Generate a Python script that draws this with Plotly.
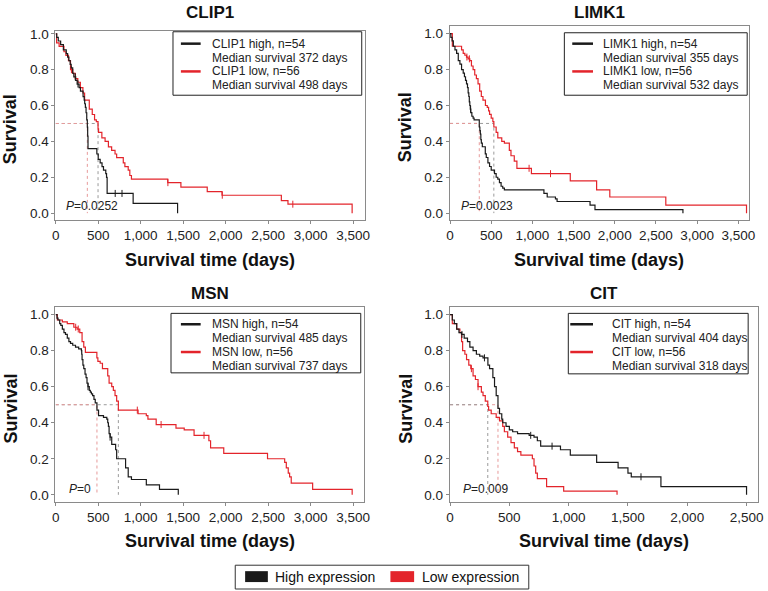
import plotly.graph_objects as go

W, H = 768, 591
BLACK = '#1a1a1a'
RED = '#e3242b'
PINK = '#e79a9a'
GREY = '#9a9a9a'
FONT = 'Liberation Sans, Arial, sans-serif'

# ---------------- data ----------------
genes = ['CLIP1', 'LIMK1', 'MSN', 'CIT']
n_high = [54, 54, 54, 54]
n_low = [56, 56, 56, 56]
median_high = [372, 355, 485, 404]
median_low = [498, 532, 737, 318]
p_values = ['0.0252', '0.0023', '0', '0.009']
x_ticks = [[0, 500, 1000, 1500, 2000, 2500, 3000, 3500]] * 3 + [[0, 500, 1000, 1500, 2000, 2500]]
y_ticks = [0.0, 0.2, 0.4, 0.6, 0.8, 1.0]

clip1_high_t = [0, 12, 30, 58, 90, 124, 140, 155, 170, 182, 200, 213, 235, 252, 275, 291, 322, 335, 341, 349,
                357, 365, 372, 376, 380, 484, 500, 523, 545, 562, 589, 598, 605, 911, 1434]
clip1_high_s = [1.0, 0.98, 0.96, 0.94, 0.91, 0.89, 0.87, 0.85, 0.83, 0.81, 0.78, 0.76, 0.74, 0.72, 0.70, 0.68, 0.65, 0.63, 0.61, 0.59,
                0.56, 0.52, 0.48, 0.43, 0.36, 0.33, 0.30, 0.28, 0.26, 0.24, 0.22, 0.20, 0.11, 0.055, 0.0]
clip1_low_t = [0, 10, 40, 97, 120, 150, 174, 200, 230, 260, 290, 320, 340, 395, 430, 457, 478, 498, 504, 543,
               581, 620, 658, 698, 717, 795, 814, 853, 872, 891, 1318, 1473, 1783, 1957, 2655, 2733, 3488]
clip1_low_s = [1.0, 0.95, 0.93, 0.90, 0.88, 0.85, 0.80, 0.78, 0.75, 0.73, 0.70, 0.67, 0.63, 0.58, 0.55, 0.52, 0.51, 0.47, 0.45, 0.42,
               0.40, 0.37, 0.35, 0.33, 0.31, 0.28, 0.26, 0.24, 0.21, 0.19, 0.17, 0.145, 0.12, 0.10, 0.07, 0.05, 0.0]

limk1_high_t = [0, 10, 25, 40, 60, 80, 100, 120, 140, 160, 175, 188, 200, 212, 220, 228, 234, 240, 246, 252,
                265, 280, 292, 355, 362, 368, 374, 380, 392, 428, 440, 460, 480, 500, 540, 560, 580, 600, 620, 640,
                660, 1140, 1180, 1280, 1300, 1700, 1760, 2828]
limk1_high_s = [1.0, 0.98, 0.96, 0.93, 0.91, 0.89, 0.85, 0.83, 0.80, 0.78, 0.76, 0.74, 0.72, 0.70, 0.67, 0.65, 0.62, 0.60, 0.58, 0.56,
                0.54, 0.53, 0.52, 0.48, 0.46, 0.44, 0.41, 0.39, 0.37, 0.33, 0.31, 0.28, 0.26, 0.24, 0.22, 0.20, 0.19, 0.17, 0.15, 0.14,
                0.13, 0.11, 0.09, 0.08, 0.065, 0.045, 0.02, 0.0]
limk1_low_t = [0, 28, 140, 160, 180, 200, 220, 240, 260, 280, 300, 320, 340, 360, 380, 400, 430, 452, 468, 480,
               500, 520, 532, 560, 580, 628, 660, 720, 740, 780, 812, 988, 1460, 1780, 1940, 2620, 3600]
limk1_low_s = [1.0, 0.93, 0.91, 0.89, 0.88, 0.87, 0.86, 0.85, 0.82, 0.80, 0.77, 0.75, 0.72, 0.68, 0.65, 0.63, 0.60, 0.59, 0.57, 0.55,
               0.53, 0.51, 0.48, 0.45, 0.42, 0.40, 0.39, 0.35, 0.32, 0.29, 0.25, 0.22, 0.18, 0.13, 0.09, 0.045, 0.0]

msn_high_t = [0, 15, 27, 47, 60, 78, 97, 115, 136, 155, 174, 200, 233, 270, 302, 306, 310, 320, 330, 345,
              357, 368, 380, 395, 407, 420, 434, 450, 465, 485, 504, 562, 601, 612, 620, 628, 640, 659, 705, 717,
              822, 853, 891, 1066, 1221, 1442]
msn_high_s = [1.0, 0.98, 0.97, 0.95, 0.94, 0.92, 0.90, 0.89, 0.87, 0.85, 0.84, 0.83, 0.82, 0.81, 0.80, 0.78, 0.75, 0.72, 0.70, 0.67,
              0.65, 0.62, 0.60, 0.58, 0.57, 0.56, 0.55, 0.53, 0.51, 0.47, 0.44, 0.43, 0.42, 0.40, 0.38, 0.34, 0.32, 0.28, 0.25, 0.20,
              0.15, 0.10, 0.085, 0.055, 0.03, 0.0]
msn_low_t = [0, 19, 78, 136, 213, 252, 283, 310, 330, 349, 484, 496, 523, 550, 612, 628, 659, 678, 698, 717,
             737, 969, 1066, 1085, 1182, 1415, 1512, 1628, 1802, 1822, 1977, 2492, 2694, 2713, 2736, 2752, 2771, 3023, 3488]
msn_low_s = [1.0, 0.97, 0.96, 0.95, 0.93, 0.92, 0.90, 0.85, 0.82, 0.79, 0.76, 0.74, 0.73, 0.70, 0.66, 0.62, 0.60, 0.58, 0.55, 0.52,
             0.47, 0.45, 0.44, 0.42, 0.39, 0.37, 0.36, 0.33, 0.30, 0.26, 0.23, 0.20, 0.18, 0.15, 0.12, 0.10, 0.065, 0.03, 0.0]

cit_high_t = [0, 19, 36, 56, 75, 97, 119, 147, 167, 194, 222, 250, 278, 319, 333, 361, 375, 389, 404, 417,
              436, 444, 472, 500, 528, 569, 667, 708, 736, 764, 931, 1014, 1236, 1417, 1500, 1528, 1778, 2500]
cit_high_s = [1.0, 0.97, 0.95, 0.92, 0.90, 0.89, 0.87, 0.85, 0.82, 0.80, 0.78, 0.77, 0.76, 0.72, 0.70, 0.65, 0.60, 0.55, 0.48, 0.45,
              0.42, 0.40, 0.38, 0.36, 0.35, 0.34, 0.33, 0.32, 0.30, 0.27, 0.25, 0.22, 0.18, 0.15, 0.12, 0.10, 0.045, 0.0]
cit_low_t = [0, 19, 56, 83, 97, 106, 125, 139, 158, 175, 194, 214, 236, 264, 278, 297, 318, 325, 347, 389,
             417, 444, 458, 486, 514, 542, 569, 597, 694, 708, 722, 736, 814, 958, 1408]
cit_low_s = [1.0, 0.95, 0.92, 0.90, 0.85, 0.80, 0.78, 0.75, 0.72, 0.70, 0.66, 0.64, 0.60, 0.57, 0.55, 0.52, 0.49, 0.47, 0.45, 0.43,
             0.41, 0.38, 0.35, 0.32, 0.29, 0.26, 0.24, 0.22, 0.20, 0.16, 0.12, 0.09, 0.045, 0.02, 0.0]

# censored observation times
clip1_high_cens = [230, 262, 700, 780]
clip1_low_cens = [185, 1320, 1960, 2790]
limk1_high_cens = [250]
limk1_low_cens = [205, 235, 960, 1220]
msn_high_cens = [380, 640]
msn_low_cens = [235, 265, 960, 1240, 1745]
cit_high_cens = [100, 290, 680, 860, 1610]
cit_low_cens = [180, 236]

high_t = [clip1_high_t, limk1_high_t, msn_high_t, cit_high_t]
high_s = [clip1_high_s, limk1_high_s, msn_high_s, cit_high_s]
low_t = [clip1_low_t, limk1_low_t, msn_low_t, cit_low_t]
low_s = [clip1_low_s, limk1_low_s, msn_low_s, cit_low_s]
high_c = [clip1_high_cens, limk1_high_cens, msn_high_cens, cit_high_cens]
low_c = [clip1_low_cens, limk1_low_cens, msn_low_cens, cit_low_cens]

# ---------------- layout (pixel geometry) ----------------
def px(x):
    return x / W

def py(y):
    return 1 - y / H

frames = [(53, 366, 27, 218), (452, 755, 22, 218), (53, 365, 306, 502), (452, 764, 306, 502)]
x_ranges = [[-4, 3636], [-4, 3632], [-4, 3624], [-3, 2597]]
y_ranges = [[-0.039, 1.017], [-0.039, 1.044], [-0.0385, 1.04], [-0.0385, 1.04]]
legend_boxes = [(172, 363, 28, 92, 180, 200, 209, 40),
                (568, 753, 29, 92, 576, 597, 605, 40),
                (170, 362, 312, 372, 180, 200, 209, 323),
                (572, 754, 312, 373, 574, 597, 614, 323)]
pval_pos = [(62, 204), (461, 204), (65, 489), (463, 489)]


def step_value(ts, ss, t):
    v = ss[0]
    for ti, si in zip(ts, ss):
        if ti <= t:
            v = si
    return v


fig = go.Figure()
annotations = []
shapes = []

for i, g in enumerate(genes):
    k = '' if i == 0 else str(i + 1)
    xa, ya = 'x' + k, 'y' + k
    x0, x1, y0, y1 = frames[i]
    fig.update_layout(**{
        'xaxis' + k: dict(domain=[px(x0), px(x1)], range=x_ranges[i], anchor=ya,
                          tickvals=x_ticks[i], tickformat=',d'),
        'yaxis' + k: dict(domain=[py(y1), py(y0)], range=y_ranges[i], anchor=xa,
                          tickvals=y_ticks, tickformat='.1f'),
    })
    # median reference lines (dotted)
    mh, ml = median_high[i], median_low[i]
    segs = [(ml, GREY), (mh, PINK)] if ml > mh else [(mh, PINK), (ml, GREY)]
    for m, col in segs:
        fig.add_trace(go.Scatter(x=[0, m, m], y=[0.5, 0.5, 0], mode='lines', xaxis=xa, yaxis=ya,
                                 line=dict(color=col, width=1, dash='dot'), showlegend=False, hoverinfo='skip'))
    # KM curves
    for ts, ss, cs, col in [(low_t[i], low_s[i], low_c[i], RED), (high_t[i], high_s[i], high_c[i], BLACK)]:
        fig.add_trace(go.Scatter(x=ts, y=ss, mode='lines', line_shape='hv', xaxis=xa, yaxis=ya,
                                 line=dict(color=col, width=1.2), showlegend=False))
        fig.add_trace(go.Scatter(x=cs, y=[step_value(ts, ss, c) for c in cs], mode='markers', xaxis=xa, yaxis=ya,
                                 marker=dict(symbol='line-ns', size=5, line=dict(color=col, width=1)),
                                 showlegend=False))
    # titles
    cx = (x0 + x1) / 2
    annotations.append(dict(text='<b>%s</b>' % g, x=px(cx), y=py(9 if i < 2 else 292),
                            xref='paper', yref='paper', showarrow=False, xanchor='center', yanchor='middle',
                            font=dict(family=FONT, size=17, color='#111')))
    annotations.append(dict(text='<b>Survival time (days)</b>', x=px(cx), y=py(y1 + 40),
                            xref='paper', yref='paper', showarrow=False, xanchor='center', yanchor='middle',
                            font=dict(family=FONT, size=18, color='#111')))
    annotations.append(dict(text='<b>Survival</b>', x=px(x0 - 45), y=py((y0 + y1) / 2 + 4), textangle=-90,
                            xref='paper', yref='paper', showarrow=False, xanchor='center', yanchor='middle',
                            font=dict(family=FONT, size=18, color='#111')))
    # p value
    annotations.append(dict(text='<i>P</i>=%s' % p_values[i], x=px(pval_pos[i][0]), y=py(pval_pos[i][1]),
                            xref='paper', yref='paper', showarrow=False, xanchor='left', yanchor='middle',
                            font=dict(family=FONT, size=12, color='#222')))
    # per-panel legend
    bx0, bx1, by0, by1, lx0, lx1, tx, ty = legend_boxes[i]
    shapes.append(dict(type='rect', xref='paper', yref='paper', x0=px(bx0), x1=px(bx1), y0=py(by1), y1=py(by0),
                       line=dict(color='#222', width=1), fillcolor='white', layer='above'))
    lines = ['%s high, n=%d' % (g, n_high[i]), 'Median survival %d days' % median_high[i],
             '%s low, n=%d' % (g, n_low[i]), 'Median survival %d days' % median_low[i]]
    for j, t in enumerate(lines):
        annotations.append(dict(text=t, x=px(tx), y=py(ty + 14 * j), xref='paper', yref='paper',
                                showarrow=False, xanchor='left', yanchor='middle',
                                font=dict(family=FONT, size=12, color='#222')))
    for j, col in [(0, BLACK), (2, RED)]:
        shapes.append(dict(type='line', xref='paper', yref='paper', x0=px(lx0), x1=px(lx1),
                           y0=py(ty + 14 * j), y1=py(ty + 14 * j), line=dict(color=col, width=2.5), layer='above'))

# bottom legend
shapes.append(dict(type='rect', xref='paper', yref='paper', x0=px(235), x1=px(532), y0=py(590), y1=py(566),
                   line=dict(color='#333', width=1), fillcolor='white'))
for sx0, sx1, col, label, tx in [(245, 268, BLACK, 'High expression', 273), (392, 416, RED, 'Low expression', 422)]:
    shapes.append(dict(type='rect', xref='paper', yref='paper', x0=px(sx0), x1=px(sx1), y0=py(583), y1=py(572),
                       line=dict(color=col, width=0), fillcolor=col))
    annotations.append(dict(text=label, x=px(tx), y=py(578), xref='paper', yref='paper', showarrow=False,
                            xanchor='left', yanchor='middle', font=dict(family=FONT, size=14, color='#111')))

axis_style = dict(showgrid=False, zeroline=False, showline=True, linecolor='#8a8a8a', linewidth=1, mirror=True,
                  ticks='outside', ticklen=3, tickcolor='#8a8a8a',
                  tickfont=dict(family=FONT, size=13.5, color='#222'))
fig.update_xaxes(**axis_style)
fig.update_yaxes(**axis_style)

fig.update_layout(width=W, height=H, margin=dict(l=0, r=0, t=0, b=0),
                  paper_bgcolor='white', plot_bgcolor='white', showlegend=False,
                  annotations=annotations, shapes=shapes)

fig.write_html('out.html', config={'displayModeBar': False},
               post_script="document.body.style.margin='0';document.body.style.overflow='hidden';")
